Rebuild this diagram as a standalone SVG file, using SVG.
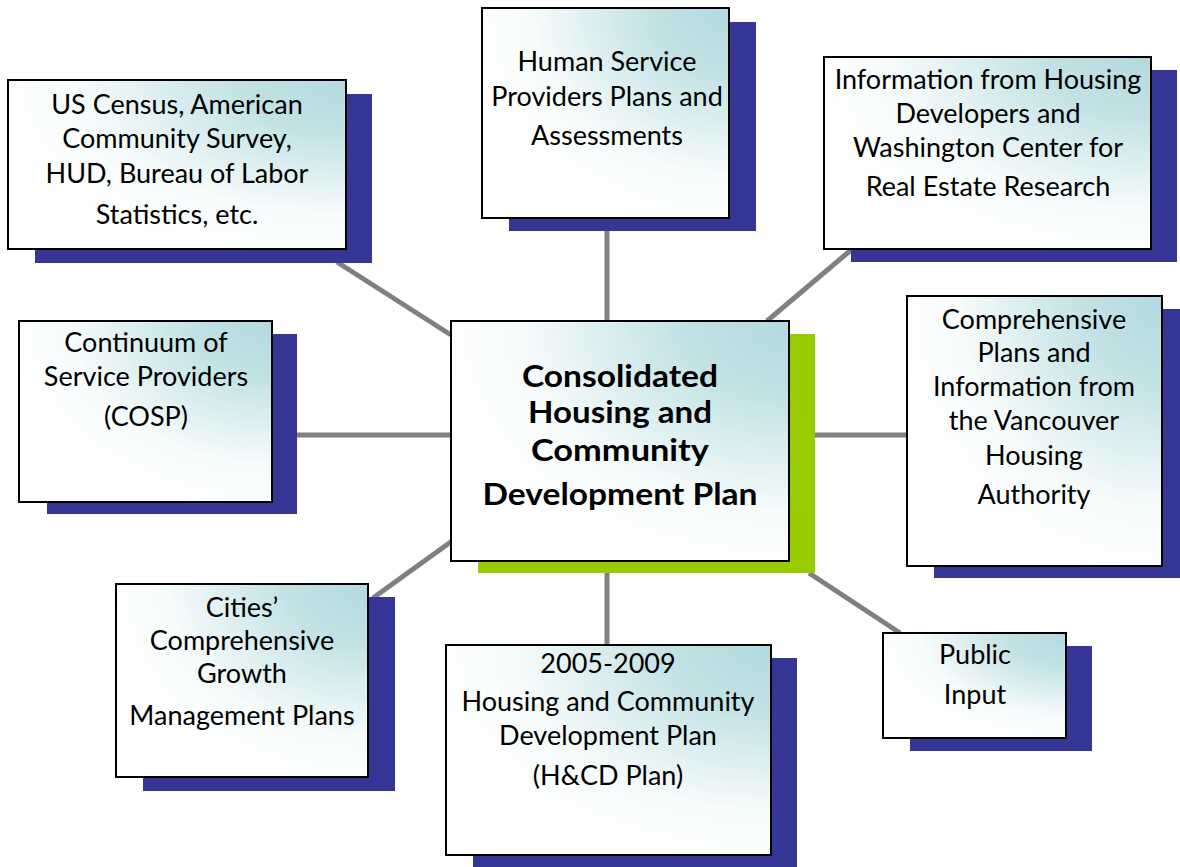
<svg xmlns="http://www.w3.org/2000/svg" width="1180" height="867" viewBox="0 0 1180 867">
<defs>
<radialGradient id="g" cx="1" cy="0" r="1.05" fx="1" fy="0">
<stop offset="0" stop-color="#b3dadf"/>
<stop offset="0.3" stop-color="#c2e2e5"/>
<stop offset="0.75" stop-color="#f6fbfb"/>
<stop offset="1" stop-color="#ffffff"/>
</radialGradient>
</defs>
<style>
.box{fill:url(#g);stroke:#000;stroke-width:2}
.sh{fill:#363696}
.gr{fill:#99cc00}
.c{stroke:#808080;stroke-width:5;fill:none}
text{font-family:Lato,"Liberation Sans",sans-serif;font-size:27px;fill:#000;text-anchor:middle}
.b{font-weight:bold;font-size:30px}
</style>
<g id="connectors">
<line class="c" x1="337" y1="262" x2="451" y2="335"/>
<line class="c" x1="607" y1="231" x2="607" y2="321"/>
<line class="c" x1="851" y1="250" x2="767" y2="321"/>
<line class="c" x1="297" y1="435" x2="451" y2="435"/>
<line class="c" x1="815" y1="435" x2="907" y2="435"/>
<line class="c" x1="373" y1="598" x2="452" y2="541"/>
<line class="c" x1="607" y1="573" x2="607" y2="645"/>
<line class="c" x1="809" y1="573" x2="900" y2="633"/>
</g>
<g id="center">
<rect class="gr" x="478" y="334" width="337" height="239"/>
<rect class="box" x="451" y="321" width="338" height="240"/>
<text class="b" x="620" y="387" textLength="196" lengthAdjust="spacingAndGlyphs">Consolidated</text>
<text class="b" x="620" y="423" textLength="184" lengthAdjust="spacingAndGlyphs">Housing and</text>
<text class="b" x="620" y="461" textLength="178" lengthAdjust="spacingAndGlyphs">Community</text>
<text class="b" x="620" y="505" textLength="275" lengthAdjust="spacingAndGlyphs">Development Plan</text>
</g>
<g id="census">
<rect class="sh" x="35" y="94" width="337" height="169"/>
<rect class="box" x="8" y="80" width="338" height="169"/>
<text x="177" y="114">US Census, American</text>
<text x="177" y="148">Community Survey,</text>
<text x="177" y="183">HUD, Bureau of Labor</text>
<text x="177" y="224">Statistics, etc.</text>
</g>
<g id="human">
<rect class="sh" x="509" y="22" width="247" height="209"/>
<rect class="box" x="482" y="8" width="247" height="210"/>
<text x="607" y="71">Human Service</text>
<text x="607" y="106">Providers Plans and</text>
<text x="607" y="145">Assessments</text>
</g>
<g id="developers">
<rect class="sh" x="851" y="70" width="326" height="192"/>
<rect class="box" x="824" y="57" width="327" height="192"/>
<text x="988" y="89">Information from Housing</text>
<text x="988" y="123">Developers and</text>
<text x="988" y="157">Washington Center for</text>
<text x="988" y="196">Real Estate Research</text>
</g>
<g id="cosp">
<rect class="sh" x="47" y="334" width="250" height="180"/>
<rect class="box" x="19" y="321" width="253" height="181"/>
<text x="146" y="352">Continuum of</text>
<text x="146" y="386">Service Providers</text>
<text x="146" y="426">(COSP)</text>
</g>
<g id="vha">
<rect class="sh" x="934" y="309" width="246" height="269"/>
<rect class="box" x="907" y="296" width="255" height="270"/>
<text x="1034" y="329">Comprehensive</text>
<text x="1034" y="362">Plans and</text>
<text x="1034" y="396">Information from</text>
<text x="1034" y="430">the Vancouver</text>
<text x="1034" y="465">Housing</text>
<text x="1034" y="504">Authority</text>
</g>
<g id="cities">
<rect class="sh" x="143" y="597" width="252" height="194"/>
<rect class="box" x="116" y="584" width="252" height="193"/>
<text x="242" y="617">Cities’</text>
<text x="242" y="650">Comprehensive</text>
<text x="242" y="683">Growth</text>
<text x="242" y="725">Management Plans</text>
</g>
<g id="hcd">
<rect class="sh" x="473" y="658" width="324" height="209"/>
<rect class="box" x="446" y="645" width="325" height="210"/>
<text x="608" y="673">2005-2009</text>
<text x="608" y="711">Housing and Community</text>
<text x="608" y="745">Development Plan</text>
<text x="608" y="785">(H&amp;CD Plan)</text>
</g>
<g id="public">
<rect class="sh" x="910" y="646" width="182" height="105"/>
<rect class="box" x="883" y="633" width="183" height="105"/>
<text x="975" y="664">Public</text>
<text x="975" y="704">Input</text>
</g>
</svg>
